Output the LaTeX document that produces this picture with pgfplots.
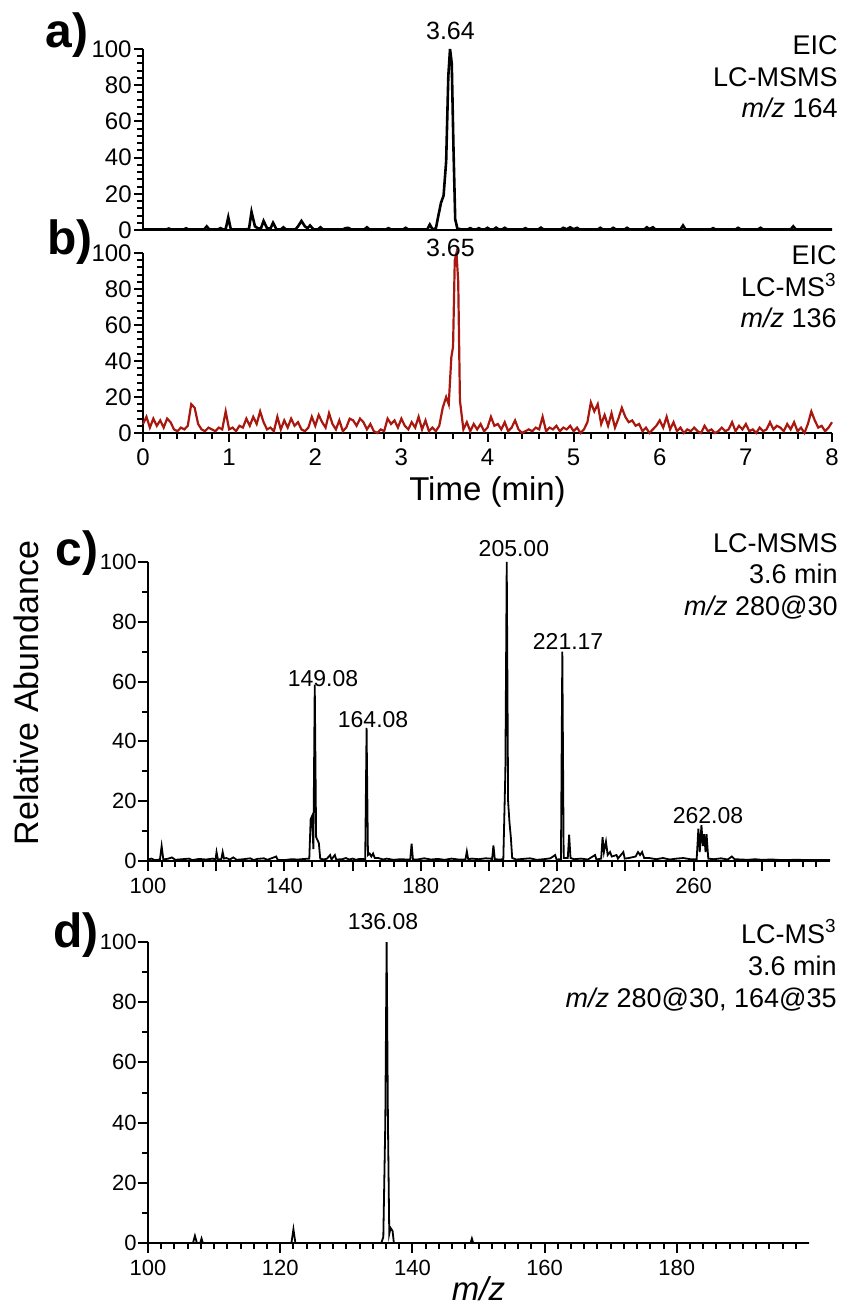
\documentclass[border=0pt]{standalone}
\usepackage{fontspec}
\setmainfont{Liberation Sans}
\usepackage{pgfplots}
\pgfplotsset{compat=1.18}
\definecolor{eicred}{RGB}{168,24,14}

\pgfplotsset{
  base/.style={
    scale only axis, anchor=south west, clip=false,
    axis lines=left, axis line style={-, line width=1.1pt},
    tick align=outside, tick style={black, line width=1pt},
    major tick length=4.5pt, minor tick length=3pt,
    /pgf/number format/assume math mode=true,
    ymin=0, ymax=100, ytick={0,20,...,100},
  },
  chrom/.style={base, width=344.5pt, xmin=0, xmax=8,
    minor y tick num=4,
    ticklabel style={font=\fontsize{12}{13}\selectfont},
    yticklabel style={inner xsep=1pt}},
  spec/.style={base, minor y tick num=1,
    major tick length=5pt, minor tick length=3pt,
    ticklabel style={font=\fontsize{11}{12}\selectfont},
    yticklabel style={inner xsep=0.5pt}},
}
\newcommand{\ann}{\fontsize{13.5}{16}\selectfont}
\newcommand{\pk}{\fontsize{12.5}{13}\selectfont}
\newcommand{\pks}{\fontsize{11.5}{12}\selectfont}
\newcommand{\lett}{\fontsize{24}{26}\selectfont\bfseries}

\begin{document}
\begin{tikzpicture}
\path[use as bounding box] (0,0) rectangle (421.5pt,-655pt);

% a) EIC LC-MSMS m/z 164
\begin{axis}[chrom, at={(71.5pt,-115pt)}, height=90.5pt, xtick=\empty]
\addplot[black, line width=1.3pt] coordinates {
(0,0.3)(0.27,0.3)(0.3,0.8)(0.33,0.3)(0.47,0.3)(0.5,0.9)(0.53,0.3)(0.71,0.3)(0.74,2)(0.77,0.3)
(0.87,0.3)(0.9,1)(0.93,0.3)(0.96,0.5)(0.99,7)(1.02,0.3)(1.23,0.4)(1.26,10)(1.30,2)(1.34,0.8)
(1.37,1)(1.40,5)(1.44,1)(1.48,0.8)(1.51,4)(1.55,0.3)(1.60,0.3)(1.63,1.5)(1.66,0.3)(1.77,0.3)
(1.80,2)(1.84,5)(1.88,2)(1.91,1)(1.94,2.5)(1.98,0.3)(2.03,0.3)(2.06,1.5)(2.09,0.3)(2.32,0.3)
(2.35,1)(2.38,1.2)(2.42,0.3)(2.57,0.3)(2.6,1.5)(2.63,0.3)(2.82,0.3)(2.85,1)(2.88,0.3)(3.02,0.3)
(3.05,1.2)(3.08,0.3)(3.30,0.3)(3.33,3)(3.36,0.5)(3.40,0.8)(3.43,8)(3.46,15)(3.49,19)(3.52,38)
(3.545,85)(3.565,100)(3.585,92)(3.605,45)(3.625,6)(3.65,0.8)(3.7,0.3)(3.77,0.3)(3.8,1)(3.83,0.3)
(3.87,0.3)(3.9,1)(3.93,0.3)(3.97,0.3)(4.0,1.2)(4.03,0.3)(4.07,0.3)(4.10,1.3)(4.13,0.3)(4.17,0.3)
(4.20,1.2)(4.23,0.3)(4.41,0.3)(4.44,1)(4.47,0.3)(4.59,0.3)(4.62,1.3)(4.65,0.3)(4.85,0.3)(4.88,1.2)
(4.92,0.4)(4.96,1.5)(5.0,0.4)(5.04,1.2)(5.07,0.3)(5.28,0.3)(5.31,1.2)(5.34,0.3)(5.43,0.3)(5.46,1.2)
(5.49,0.3)(5.59,0.3)(5.62,1.2)(5.65,0.3)(5.82,0.3)(5.85,1.5)(5.88,0.5)(5.92,1.5)(5.95,0.3)(6.24,0.3)
(6.27,2.5)(6.30,0.3)(6.59,0.3)(6.62,1)(6.65,0.3)(6.88,0.3)(6.91,1.2)(6.94,0.3)(7.14,0.3)(7.17,1.2)
(7.20,0.3)(7.52,0.3)(7.55,2)(7.58,0.3)(8,0.3)
};
\node[font=\pk, anchor=base] at (axis cs:3.57,105.5) {3.64};
\end{axis}

% b) EIC LC-MS3 m/z 136
\begin{axis}[chrom, at={(71.5pt,-216.5pt)}, height=90pt,
  xtick={0,1,...,8}, minor x tick num=4,
  xlabel={Time (min)},
  xlabel style={font=\fontsize{16.5}{18}\selectfont, at={(axis description cs:0.5,0)}, anchor=base, yshift=-33.5pt}]
\addplot[eicred, line width=1.1pt] coordinates {
(0.00,5)(0.04,9)(0.08,3)(0.12,8)(0.16,4)(0.20,7)(0.24,3)(0.28,8)(0.32,6)(0.36,2)(0.40,1)(0.44,3)(0.48,2)
(0.52,4)(0.56,16)(0.60,14)(0.64,5)(0.68,2)(0.72,1)(0.76,3)(0.80,2)(0.84,1)(0.88,3)(0.92,2)(0.96,12)
(1.00,2)(1.04,3)(1.08,1)(1.12,4)(1.16,3)(1.20,8)(1.24,4)(1.28,9)(1.32,5)(1.36,12)(1.40,6)(1.44,2)(1.48,3)
(1.52,1)(1.56,9)(1.60,2)(1.64,7)(1.68,3)(1.72,8)(1.76,4)(1.80,6)(1.84,2)(1.88,1)(1.92,3)(1.96,9)
(2.00,4)(2.04,10)(2.08,6)(2.12,3)(2.16,11)(2.20,5)(2.24,2)(2.28,7)(2.32,1)(2.36,3)(2.40,8)(2.44,7)(2.48,4)
(2.52,8)(2.56,6)(2.60,2)(2.64,5)(2.68,1)(2.72,0)(2.76,2)(2.80,1)(2.84,8)(2.88,5)(2.92,7)(2.96,3)
(3.00,8)(3.04,4)(3.08,2)(3.12,6)(3.16,3)(3.20,9)(3.24,2)(3.28,7)(3.32,1)(3.36,3)(3.40,1)(3.44,4)
(3.48,14)(3.52,20)(3.55,16)(3.58,42)(3.60,48)(3.62,96)(3.64,100)(3.66,84)(3.68,18)(3.72,2)(3.76,6)
(3.80,1)(3.84,5)(3.88,2)(3.92,5)(3.96,1)
(4.00,3)(4.04,9)(4.08,4)(4.12,5)(4.16,2)(4.20,6)(4.24,1)(4.28,3)(4.32,7)(4.36,2)(4.40,0)(4.44,1)(4.48,2)
(4.52,1)(4.56,3)(4.60,2)(4.64,9)(4.68,1)(4.72,3)(4.76,2)(4.80,4)(4.84,1)(4.88,3)(4.92,2)(4.96,4)
(5.00,1)(5.04,3)(5.08,0)(5.12,2)(5.16,6)(5.20,17)(5.24,12)(5.28,16)(5.32,5)(5.36,10)(5.40,4)(5.44,11)(5.48,3)
(5.52,8)(5.56,14)(5.60,9)(5.64,6)(5.68,7)(5.72,4)(5.76,5)(5.80,1)(5.84,3)(5.88,0)(5.92,2)(5.96,4)
(6.00,7)(6.04,3)(6.08,9)(6.12,2)(6.16,6)(6.20,1)(6.24,3)(6.28,0)(6.32,2)(6.36,1)(6.40,3)(6.44,1)(6.48,0)
(6.52,4)(6.56,1)(6.60,2)(6.64,0)(6.68,1)(6.72,3)(6.76,1)(6.80,2)(6.84,6)(6.88,1)(6.92,4)(6.96,2)
(7.00,5)(7.04,1)(7.08,2)(7.12,0)(7.16,3)(7.20,1)(7.24,2)(7.28,6)(7.32,2)(7.36,4)(7.40,3)(7.44,1)(7.48,5)
(7.52,2)(7.56,6)(7.60,1)(7.64,3)(7.68,0)(7.72,5)(7.76,12)(7.80,7)(7.84,3)(7.88,4)(7.92,1)(7.96,3)(8.00,6)
};
\node[font=\pk, anchor=base] at (axis cs:3.57,97.8) {3.65};
\end{axis}

% c) LC-MSMS spectrum
\begin{axis}[spec, at={(74pt,-430.5pt)}, width=341pt, height=149.5pt,
  xmin=100, xmax=300, xtick={100,120,...,280},
  xticklabels={100,,140,,180,,220,,260,},
  minor xtick={104,108,...,296}]
\addplot[black, line width=0.9pt] coordinates {
(100,0.5)(101,0.8)(102,0.3)(103.5,0.5)(104,5)(104.5,0.5)(106,0.8)(107,1.2)(108,0.4)(110,0.6)
(112,0.8)(113,0.3)(115,0.7)(117,0.5)(119,0.8)(119.8,0.5)(120.1,3)(120.5,0.5)(121.5,0.6)(121.9,3)
(122.3,0.8)(123,1)(124,0.5)(125,1.2)(126,0.4)(128,0.6)(130,0.9)(131,0.3)(132,0.7)(134,0.9)
(135,0.4)(137.6,1.5)(138,0.4)(140,0.3)(142,0.6)(144,0.5)(146,0.7)(147.3,0.8)(147.7,14)(148.1,15)
(148.5,4)(148.9,59)(149.3,8)(149.7,7)(150.1,6)(150.5,0.8)(151.5,0.5)(152.5,0.8)(153.4,2)(153.8,0.5)
(154.8,2)(155.2,0.5)(157,0.6)(158,1)(159,0.5)(160,0.8)(161,0.4)(162,0.7)(163.7,0.6)(164.1,44.5)
(164.5,2)(165,2.5)(165.5,1.5)(166,2.5)(166.5,1)(167.5,1)(169,0.5)(170,0.8)(172,0.4)(174,0.6)
(176,0.5)(176.9,0.5)(177.3,5.8)(177.7,0.5)(179,0.5)(181,0.9)(183,0.5)(185,0.7)(187,0.4)(189,0.8)
(191,0.5)(193.1,0.5)(193.5,3.2)(193.9,0.6)(195,0.8)(197,0.6)(199,0.9)(200.5,0.8)(200.9,0.5)(201.3,5.2)
(201.7,0.6)(203,0.5)(204.2,0.6)(204.8,30)(205.2,100)(205.6,20)(206.0,13)(206.4,8)(206.8,1)(208,0.5)
(210,0.7)(212,0.9)(214,0.4)(216,0.6)(218,0.9)(219.4,2)(219.8,0.5)(221.1,0.6)(221.5,70)(221.9,1)
(223.1,1)(223.5,8.8)(223.9,1)(225,0.6)(227,0.8)(229,0.5)(231.1,2)(231.5,0.5)(232.9,0.8)(233.3,8)
(233.7,3)(234.3,6.5)(234.8,2)(235.5,3)(236,1.5)(237.4,2)(237.8,0.8)(239.4,3)(239.8,0.8)(241,1)
(243,1.5)(243.7,3)(244.3,2)(244.9,3)(245.5,1)(247,1)(249,0.6)(251,1)(253,0.5)(255,0.8)
(257,1)(259,0.6)(260.9,0.6)(261.4,10.8)(261.8,3)(262.3,12)(262.7,5)(263.1,9)(263.5,3)(263.8,9)
(264.3,0.8)(266,0.6)(268,0.9)(270,0.5)(271.2,1.5)(272,0.6)(274,0.5)(276,0.4)(278,0.6)(280,0.4)
(283,0.5)(286,0.3)(290,0.4)(295,0.3)(300,0.3)
};
\node[font=\pks, anchor=base] at (axis cs:151.3,58.5) {149.08};
\node[font=\pks, anchor=base] at (axis cs:166.0,44.5) {164.08};
\node[font=\pks, anchor=base] at (axis cs:207.3,101.7) {205.00};
\node[font=\pks, anchor=base] at (axis cs:223.2,70.6) {221.17};
\node[font=\pks, anchor=base] at (axis cs:264.2,12.7) {262.08};
\end{axis}

% d) LC-MS3 spectrum
\begin{axis}[spec, at={(74pt,-621.5pt)}, width=330.5pt, height=150.5pt,
  xmin=100, xmax=200, xtick={100,120,...,180},
  minor xtick={102,104,...,198},
  xlabel={\itshape m/z},
  xlabel style={font=\fontsize{16.5}{18}\selectfont, at={(axis description cs:0.5,0)}, anchor=base, yshift=-28.5pt}]
\addplot[black, line width=0.9pt] coordinates {
(100,0)(106.8,0)(107.1,2.4)(107.4,0)(107.9,0)(108.1,1.5)(108.3,0)(121.7,0)(122.0,4.6)(122.3,0)
(135.3,0)(135.6,2)(135.9,40)(136.1,100)(136.3,40)(136.5,3)(136.7,5)(137.0,4)(137.2,0)
(148.8,0)(149.0,1.5)(149.2,0)(200,0)
};
\node[font=\pks, anchor=base] at (axis cs:135.55,104) {136.08};
\end{axis}

% panel letters
\node[font=\lett, anchor=base west, inner sep=0pt] at (22.5pt,-24pt) {a)};
\node[font=\lett, anchor=base west, inner sep=0pt] at (23.5pt,-127.5pt) {b)};
\node[font=\lett, anchor=base west, inner sep=0pt] at (27.5pt,-282.5pt) {c)};
\node[font=\lett, anchor=base west, inner sep=0pt] at (26.5pt,-473.5pt) {d)};

% annotations
\node[font=\ann, anchor=base east, inner sep=0pt] at (419pt,-27.5pt) {EIC};
\node[font=\ann, anchor=base east, inner sep=0pt] at (419pt,-43.5pt) {LC-MSMS};
\node[font=\ann, anchor=base east, inner sep=0pt] at (419pt,-59pt) {\textit{m/z} 164};
\node[font=\ann, anchor=base east, inner sep=0pt] at (418.5pt,-132.5pt) {EIC};
\node[font=\ann, anchor=base east, inner sep=0pt] at (418.5pt,-148.5pt) {LC-MS\textsuperscript{3}};
\node[font=\ann, anchor=base east, inner sep=0pt] at (418.5pt,-164pt) {\textit{m/z} 136};
\node[font=\ann, anchor=base east, inner sep=0pt] at (419pt,-276pt) {LC-MSMS};
\node[font=\ann, anchor=base east, inner sep=0pt] at (419pt,-291.5pt) {3.6 min};
\node[font=\ann, anchor=base east, inner sep=0pt] at (419pt,-307.5pt) {\textit{m/z} 280@30};
\node[font=\ann, anchor=base east, inner sep=0pt] at (418.5pt,-471.5pt) {LC-MS\textsuperscript{3}};
\node[font=\ann, anchor=base east, inner sep=0pt] at (418.5pt,-487.5pt) {3.6 min};
\node[font=\ann, anchor=base east, inner sep=0pt] at (418.5pt,-503.5pt) {\textit{m/z} 280@30, 164@35};

% shared y label
\node[font=\fontsize{17}{18}\selectfont, rotate=90, anchor=base, inner sep=0pt] at (19pt,-346.5pt) {Relative Abundance};
\end{tikzpicture}
\end{document}
